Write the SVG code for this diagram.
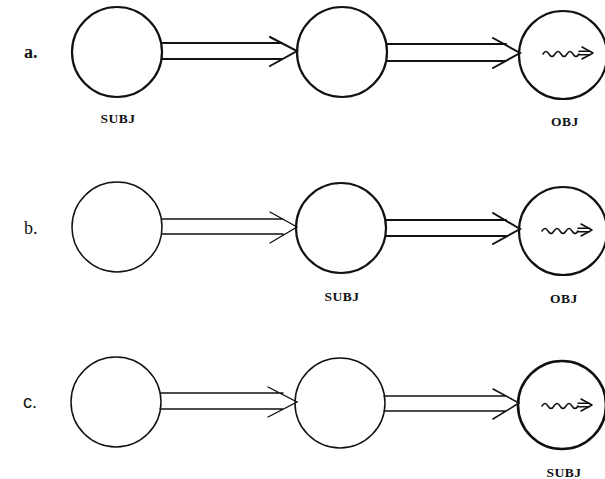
<svg xmlns="http://www.w3.org/2000/svg" width="605" height="479" viewBox="0 0 605 479">
  <style>
    .node { fill: none; stroke: #111; }
    .thick { stroke-width: 2.2; }
    .thin { stroke-width: 1.5; }
    .conn { fill: none; stroke: #111; stroke-linecap: round; stroke-linejoin: miter; }
    .lbl { font-family: "Liberation Serif", "DejaVu Serif", serif; font-weight: bold; font-size: 13.5px; letter-spacing: 0.5px; fill: #111; text-anchor: middle; }
    .row { font-size: 18px; fill: #111; }
    .wave { fill: none; stroke: #111; stroke-width: 1.5; stroke-linecap: round; stroke-linejoin: round; }
  </style>
  <defs>
    <!-- squiggly arrow drawn inside a final node, centred on (0,0) -->
    <g id="squiggle">
      <path class="wave" d="M-23,1 q3,-5 6,0 t6,0 t6,0 t6,0 t6,0 t6,0"/>
      <path class="wave" d="M13,-1.8 L24,-1.8 M13,1.8 L24,1.8"/>
      <path class="wave" d="M16,-6 L27,0 L16,6"/>
    </g>
  </defs>

  <!-- row labels -->
  <text class="row" x="24" y="58" font-family="Liberation Serif, serif" font-weight="bold">a.</text>
  <text class="row" x="24" y="234" font-family="Liberation Serif, serif">b.</text>
  <text class="row" x="23" y="408" font-family="Liberation Sans, sans-serif" font-size="16">c.</text>

  <!-- connectors: double-line arrows -->
  <g id="connectors">
    <!-- row a -->
    <path class="conn" stroke-width="2" d="M162,43 L282,43 M162,59 L282,59 M270,37 L297,51 L270,66"/>
    <path class="conn" stroke-width="2" d="M387,44 L506,44 M387,61 L506,61 M493,38 L520,53 L493,68"/>
    <!-- row b -->
    <path class="conn" stroke-width="1.3" d="M162,219 L283,219 M162,234 L283,234 M270,212 L297,227 L270,243"/>
    <path class="conn" stroke-width="2" d="M386,220 L506,220 M386,236 L506,236 M493,213 L520,229 L493,244"/>
    <!-- row c -->
    <path class="conn" stroke-width="1.4" d="M160,393 L283,393 M160,409 L283,409 M268,387 L297,402 L268,417"/>
    <path class="conn" stroke-width="1.5" d="M384,396 L506,396 M384,411 L506,411 M493,389 L519,403 L493,419"/>
  </g>

  <!-- row a nodes -->
  <g id="a1"><circle class="node thick" cx="117" cy="52" r="45"/><text class="lbl" x="118" y="123">SUBJ</text></g>
  <g id="a2"><circle class="node thick" cx="342" cy="52" r="45"/></g>
  <g id="a3"><circle class="node thick" cx="563" cy="55" r="44"/><use href="#squiggle" x="566" y="53"/><text class="lbl" x="565" y="126">OBJ</text></g>

  <!-- row b nodes -->
  <g id="b1"><circle class="node thin" cx="117" cy="227" r="45"/></g>
  <g id="b2"><circle class="node thick" cx="341" cy="228" r="45"/><text class="lbl" x="342" y="301">SUBJ</text></g>
  <g id="b3"><circle class="node thick" cx="563" cy="231" r="44"/><use href="#squiggle" x="565" y="230"/><text class="lbl" x="564" y="303">OBJ</text></g>

  <!-- row c nodes -->
  <g id="c1"><circle class="node thin" cx="116" cy="402" r="45"/></g>
  <g id="c2"><circle class="node thin" cx="340" cy="403" r="45"/></g>
  <g id="c3"><circle class="node" stroke-width="2.6" cx="562" cy="405" r="44"/><use href="#squiggle" x="565" y="405"/><text class="lbl" x="564" y="477">SUBJ</text></g>
</svg>
